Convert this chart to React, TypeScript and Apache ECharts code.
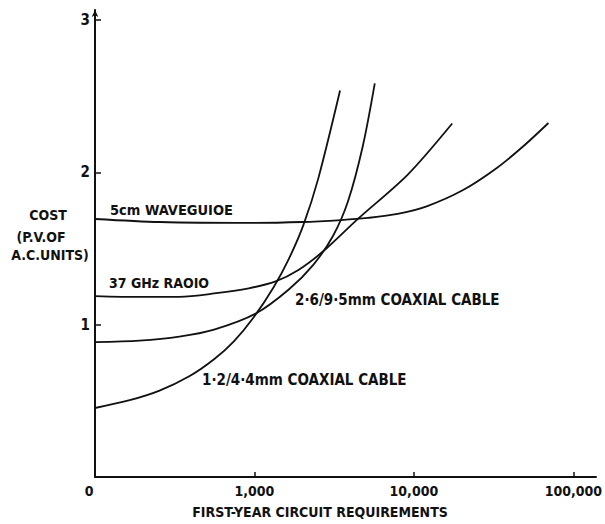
import React, { useEffect, useRef } from "react";
import * as echarts from "echarts";

const circuitTicks = [100, 1000, 10000, 100000];
const circuitTickLabels = ["0", "1,000", "10,000", "100,000"];
const costTicks = [1, 2, 3];

const coax12Circuits = [100, 165, 254, 390, 558, 743, 990, 1319, 1635, 2027, 2513, 3443];
const coax12Cost = [0.453, 0.504, 0.567, 0.661, 0.773, 0.891, 1.049, 1.246, 1.427, 1.654, 1.959, 2.537];

const coax26Circuits = [100, 190, 338, 558, 1019, 1635, 2339, 3115, 3863, 4788, 5686];
const coax26Cost = [0.886, 0.896, 0.922, 0.968, 1.073, 1.229, 1.393, 1.584, 1.81, 2.175, 2.584];

const radioCircuits = [100, 190, 338, 558, 921, 1357, 1887, 2699, 4457, 9125, 17390];
const radioCost = [1.188, 1.182, 1.183, 1.205, 1.239, 1.284, 1.359, 1.482, 1.695, 1.984, 2.321];

const waveCircuits = [100, 254, 921, 1998, 3493, 5144, 7907, 12150, 20350, 33130, 48770, 69800];
const waveCost = [1.694, 1.674, 1.668, 1.674, 1.687, 1.701, 1.727, 1.779, 1.884, 2.029, 2.173, 2.324];

const FONT = '"DejaVu Sans Condensed", "Liberation Sans Narrow", "DejaVu Sans", sans-serif';

function pairs(xs: number[], ys: number[]) {
  return xs.map((x, i) => [x, ys[i]]);
}

function curve(name: string, xs: number[], ys: number[]) {
  return {
    name,
    type: "line",
    data: pairs(xs, ys),
    smooth: 0.3,
    symbol: "none",
    lineStyle: { color: "#111", width: 1.8 },
  };
}

function label(text: string, x: number, y: number, align: string = "left", size: number = 14) {
  return {
    type: "text",
    x,
    y,
    style: {
      text,
      fill: "#111",
      font: `bold ${size}px ${FONT}`,
      align,
      verticalAlign: "middle",
    },
  };
}

export default function App() {
  const ref = useRef<HTMLDivElement>(null);
  useEffect(() => {
    if (!ref.current) return;
    const chart = echarts.init(ref.current, null, { renderer: "svg" });
    chart.setOption({
      animation: false,
      backgroundColor: "#fff",
      grid: { left: 95, right: 5, top: 10, bottom: 47 },
      xAxis: {
        type: "log",
        logBase: 10,
        min: 100,
        max: 138700,
        axisLine: { lineStyle: { color: "#111", width: 2 } },
        axisTick: {
          show: true,
          inside: true,
          length: 5,
          customValues: circuitTicks.slice(1),
          lineStyle: { color: "#111", width: 1.5 },
        },
        axisLabel: {
          customValues: circuitTicks,
          margin: 7,
          color: "#111",
          fontFamily: FONT,
          fontWeight: "bold",
          fontSize: 14,
          formatter: (v: number) => {
            const i = circuitTicks.findIndex((t) => Math.abs(t - v) / t < 1e-6);
            if (i < 0) return "";
            return i === 0 ? "{z|" + circuitTickLabels[i] + "}" : circuitTickLabels[i];
          },
          rich: {
            z: {
              padding: [0, 12, 0, 0],
              color: "#111",
              fontFamily: FONT,
              fontWeight: "bold",
              fontSize: 14,
            },
          },
        },
        splitLine: { show: false },
      },
      yAxis: {
        type: "value",
        min: 0,
        max: 3.066,
        axisLine: {
          show: true,
          symbol: ["none", "arrow"],
          symbolSize: [5, 7],
          lineStyle: { color: "#111", width: 2 },
        },
        axisTick: {
          show: true,
          inside: true,
          length: 6,
          customValues: costTicks,
          lineStyle: { color: "#111", width: 1.5 },
        },
        axisLabel: {
          customValues: costTicks,
          margin: 5,
          color: "#111",
          fontFamily: FONT,
          fontWeight: "bold",
          fontSize: 15,
        },
        splitLine: { show: false },
      },
      series: [
        curve("1·2/4·4mm COAXIAL CABLE", coax12Circuits, coax12Cost),
        curve("2·6/9·5mm COAXIAL CABLE", coax26Circuits, coax26Cost),
        curve("37 GHz RAOIO", radioCircuits, radioCost),
        curve("5cm WAVEGUIOE", waveCircuits, waveCost),
      ],
      graphic: [
        label("5cm WAVEGUIOE", 110, 210, "left", 14.5),
        label("37 GHz RAOIO", 109, 283),
        label("2·6/9·5mm COAXIAL CABLE", 295, 300, "left", 15),
        label("1·2/4·4mm COAXIAL CABLE", 202, 380, "left", 15),
        label("COST", 48, 215, "center"),
        label("(P.V.OF", 41, 237, "center"),
        label("A.C.UNITS)", 50, 255, "center"),
        label("FIRST-YEAR CIRCUIT REQUIREMENTS", 320, 512, "center"),
      ],
    });
    return () => chart.dispose();
  }, []);
  return (
    <div
      ref={ref}
      style={{ position: "fixed", left: 0, top: 0, width: 605, height: 524, background: "#fff" }}
    />
  );
}
